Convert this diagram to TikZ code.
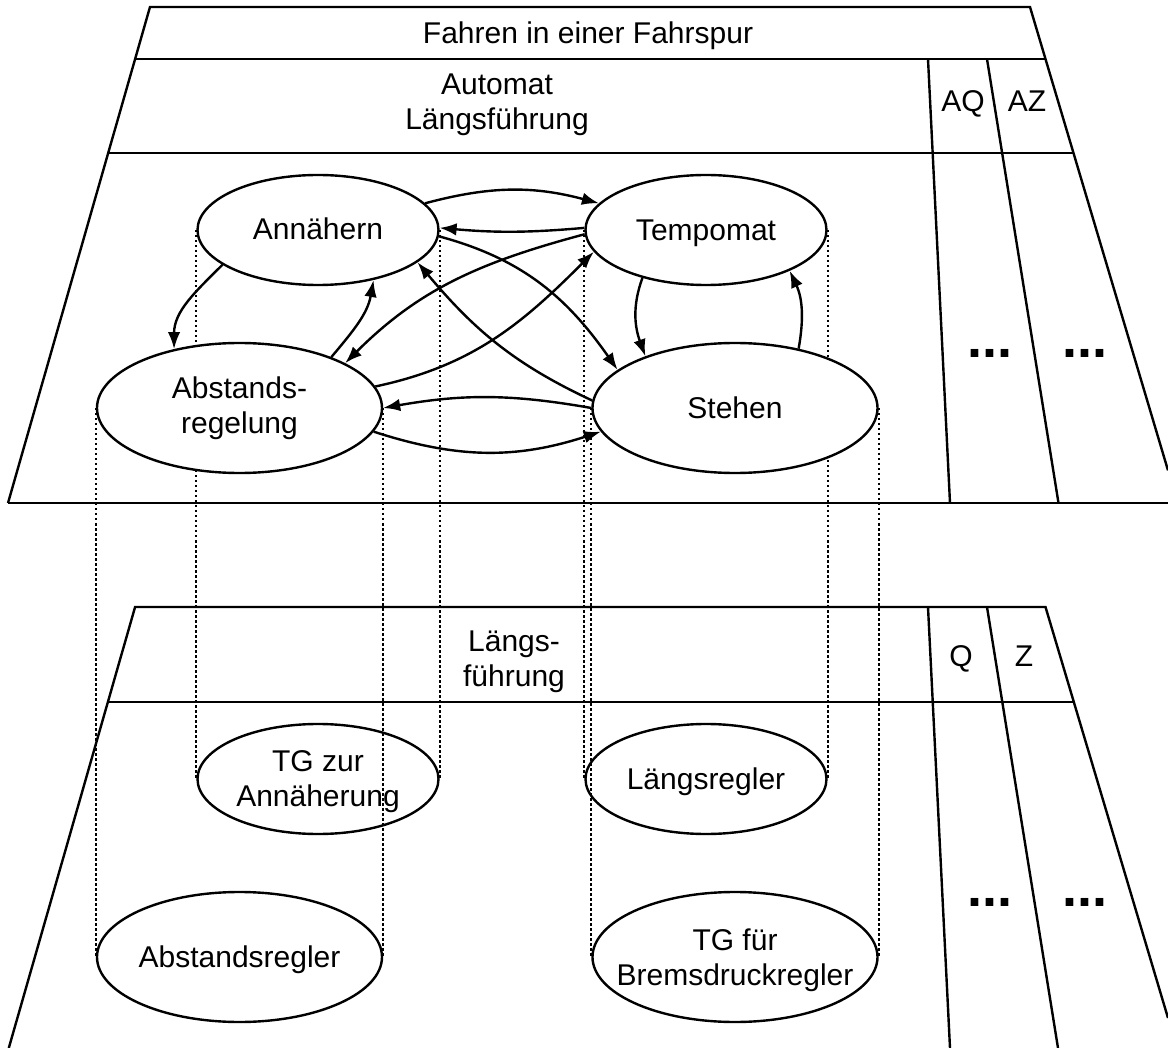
\documentclass[tikz,border=0pt]{standalone}
\usepackage{fontspec}
\setmainfont{Liberation Sans}
\usetikzlibrary{shapes.geometric,arrows.meta,backgrounds}

\begin{document}
\begin{tikzpicture}[x=1pt,y=-1pt,
  every node/.style={font=\fontsize{30}{35}\selectfont},
  state/.style={ellipse, draw, line width=2.4pt, inner sep=0pt, fill=white},
  part/.style={ellipse, draw, line width=2.4pt, inner sep=0pt},
  wide/.style={minimum width=285pt, minimum height=130pt},
  narrow/.style={minimum width=241pt, minimum height=110pt},
  lbl/.style={align=center, inner sep=0pt},
  more/.style={font=\fontsize{54}{54}\selectfont\bfseries, inner sep=0pt, anchor=base},
  trans/.style={line width=2.4pt, -{Latex[length=17pt,width=12.5pt]}},
  proj/.style={line width=2.2pt, dash pattern=on 2.5pt off 2.5pt},
  rim/.style={line width=2.4pt}]

\useasboundingbox (0,0) rectangle (1168,1048);

% ---------- states of the longitudinal automaton ----------
\node[state,narrow] (ann) at (318,230) {};
\node[state,narrow] (tem) at (706,230) {};
\node[state,wide]   (abs) at (239.5,408) {};
\node[state,wide]   (ste) at (735,408) {};

\node[lbl,anchor=base] (annT) at ([yshift=-10pt]ann.center) {Annähern};
\node[lbl,anchor=base] (temT) at ([yshift=-11pt]tem.center) {Tempomat};
\node[lbl]             (absT) at (abs.center) {Abstands-\\regelung};
\node[lbl,anchor=base] (steT) at ([yshift=-11pt]ste.center) {Stehen};

% ---------- implementing components ----------
\node[part,narrow] (tga) at (318,779) {};
\node[part,narrow] (lre) at (706,779) {};
\node[part,wide]   (are) at (239.5,957) {};
\node[part,wide]   (tgb) at (735,957) {};

\node[lbl]             (tgaT) at ([yshift=-3pt]tga.center) {TG zur\\Annäherung};
\node[lbl,anchor=base] (lreT) at ([yshift=-10pt]lre.center) {Längsregler};
\node[lbl,anchor=base] (areT) at ([yshift=-10pt]are.center) {Abstandsregler};
\node[lbl]             (tgbT) at ([yshift=-3pt]tgb.center) {TG für\\Bremsdruckregler};

% ---------- band captions ----------
\node[lbl,anchor=base] (title) at (588,44) {Fahren in einer Fahrspur};
\node[lbl] (autom) at (497,105) {Automat\\Längsführung};
\node[lbl,anchor=base] (aq) at (963,112) {AQ};
\node[lbl,anchor=base] (az) at (1027,112) {AZ};
\node[more] (dotsA) at (990,358) {...};
\node[more] (dotsB) at (1085,358) {...};

\node[lbl] (lf) at (514,662) {Längs-\\führung};
\node[lbl,anchor=base] (q) at (961,666) {Q};
\node[lbl,anchor=base] (z) at (1024,666) {Z};
\node[more] (dotsC) at (990,906) {...};
\node[more] (dotsD) at (1085,906) {...};

% ---------- transitions ----------
\draw[trans] (ann.14)  to[out=15,in=165]  (tem.166);
\draw[trans] (tem.179) to[out=185,in=355] (ann.1);
\draw[trans] (tem.182) to[out=195,in=45]  (abs.23);
\draw[trans] (abs.9)   to[out=12,in=225]  (tem.191);
\draw[trans] (abs.29)  to[out=50,in=260]  (ann.-42);
\draw[trans] (ann.200) to[out=225,in=90]  (abs.138);
\draw[trans] (ste.177) to[out=155,in=-50] (ann.-18);
\draw[trans] (ann.-3)  to[out=-15,in=125] (ste.162);
\draw[trans] (ste.180) to[out=170,in=10]  (abs.0);
\draw[trans] (abs.-10) to[out=-18,in=198] (ste.190);
\draw[trans] (tem.217) to[out=250,in=110] (ste.150);
\draw[trans] (ste.43)  to[out=80,in=-65]  (tem.-26);

% ---------- planes and projections ----------
\begin{pgfonlayer}{background}
  \fill[white] (0,0) rectangle (1168,1048);
  % upper plane
  \draw[rim] (8,503) -- (150,7) -- (1030,7) -- (1168,470.4);
  \draw[rim] (135.1,59) -- (1045.5,59);
  \draw[rim] (108.2,153) -- (1073.5,153);
  \draw[rim] (8,503) -- (1168,503);
  \draw[rim] (928,59) -- (950,503);
  \draw[rim] (987,59) -- (1058.5,503);
  % lower plane
  \draw[rim] (8.8,1048) -- (135.1,607) -- (1045.5,607) -- (1168,1018);
  \draw[rim] (108,702) -- (1073.5,702);
  \draw[rim] (928,607) -- (950,1048);
  \draw[rim] (987,607) -- (1058,1048);
  % projections of states onto components
  \draw[proj] (ann.west) -- (tga.west);
  \draw[proj] (ann.east) -- (tga.east);
  \draw[proj] (tem.west) -- (lre.west);
  \draw[proj] (tem.east) -- (lre.east);
  \draw[proj] (abs.west) -- (are.west);
  \draw[proj] (abs.east) -- (are.east);
  \draw[proj] (ste.west) -- (tgb.west);
  \draw[proj] (ste.east) -- (tgb.east);
\end{pgfonlayer}
\end{tikzpicture}
\end{document}
